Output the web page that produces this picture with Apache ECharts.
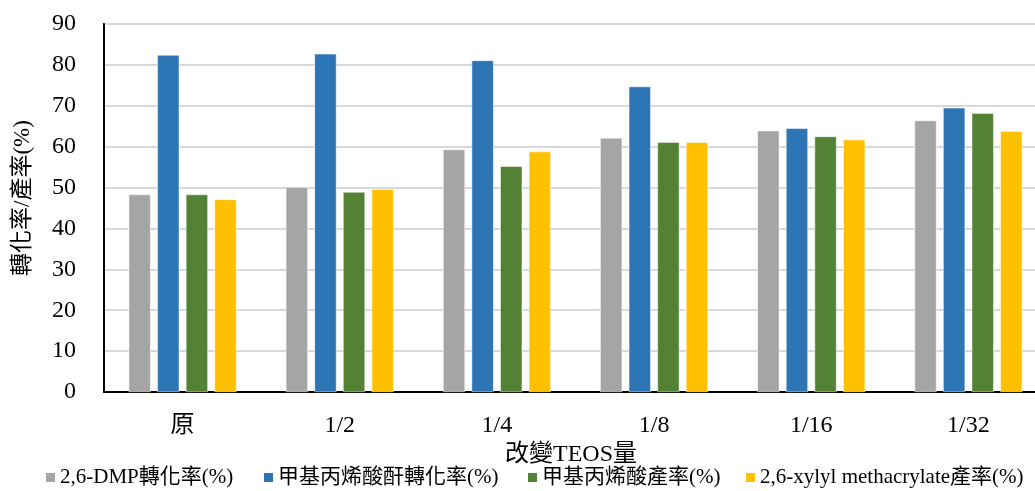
<!DOCTYPE html>
<html>
<head>
<meta charset="utf-8">
<script src="https://cdn.jsdelivr.net/npm/echarts@6/dist/echarts.min.js"></script>
<style>
  html, body { margin: 0; padding: 0; background: #fff; overflow: hidden; }
  #chart { width: 1035px; height: 491px; }
</style>
</head>
<body>
<div id="chart"></div>
<script>
// TEOS amount categories
const categories = ['原', '1/2', '1/4', '1/8', '1/16', '1/32'];

// Series names
const seriesNames = [
  '2,6-DMP轉化率(%)',
  '甲基丙烯酸酐轉化率(%)',
  '甲基丙烯酸產率(%)',
  '2,6-xylyl methacrylate產率(%)'
];

// Values (%)
const dmpConversion   = [48.3, 50.1, 59.3, 62.1, 63.9, 66.4];
const anhydrideConv   = [82.4, 82.7, 81.1, 74.7, 64.5, 69.5];
const acidYield       = [48.3, 48.9, 55.2, 61.1, 62.5, 68.2];
const esterYield      = [47.1, 49.6, 58.8, 61.1, 61.7, 63.8];

// Y axis ticks
const yMin = 0, yMax = 90, yStep = 10;

const colors = ['#A5A5A5', '#2E75B6', '#548235', '#FFC000'];
const fontFamily = "'Liberation Serif', 'Times New Roman', 'Noto Sans CJK TC', serif";

const chart = echarts.init(document.getElementById('chart'));

const seriesData = [dmpConversion, anhydrideConv, acidYield, esterYield];

// one legend block per series so each entry sits at its own x position
const legendLefts = [44, 262, 526, 744];
const legends = seriesNames.map((name, i) => ({
  data: [name],
  left: legendLefts[i],
  top: 467,
  itemWidth: 11,
  itemHeight: 11,
  icon: 'rect',
  padding: 0,
  selectedMode: false,
  textStyle: { fontFamily: fontFamily, fontSize: 21, color: '#000', padding: [0, 0, 0, -1] }
}));

chart.setOption({
  animation: false,
  color: colors,
  textStyle: { fontFamily: fontFamily, color: '#000' },
  title: {
    text: '改變TEOS量',
    left: 566,
    top: 438,
    textAlign: 'center',
    textStyle: { fontFamily: fontFamily, fontSize: 24, fontWeight: 'normal', color: '#000' }
  },
  graphic: [{
    type: 'text',
    x: 23,
    y: 198,
    rotation: Math.PI / 2,
    style: {
      text: '轉化率/產率(%)',
      fontFamily: fontFamily,
      fontSize: 23,
      fill: '#000',
      align: 'center',
      verticalAlign: 'middle'
    }
  }],
  legend: legends,
  // the plot area runs past the right edge of the canvas
  grid: {
    left: 104,
    top: 24,
    height: 368,
    width: 943,
    show: true,
    borderColor: '#000',
    borderWidth: 2,
    containLabel: false,
    outerBoundsMode: 'none'
  },
  xAxis: {
    type: 'category',
    data: categories,
    axisLine: { show: true, lineStyle: { color: '#000', width: 2 } },
    axisTick: { show: false },
    axisLabel: { fontFamily: fontFamily, fontSize: 24, color: '#000', margin: 22 }
  },
  yAxis: {
    type: 'value',
    min: yMin,
    max: yMax,
    interval: yStep,
    axisLine: { show: true, lineStyle: { color: '#000', width: 2 } },
    axisTick: { show: false },
    axisLabel: { fontFamily: fontFamily, fontSize: 24, color: '#000', margin: 28 },
    splitLine: { show: true, lineStyle: { color: '#D9D9D9', width: 2 } }
  },
  series: seriesNames.map((name, i) => ({
    name: name,
    type: 'bar',
    data: seriesData[i],
    barWidth: 22,
    barGap: '30%',
    itemStyle: { color: colors[i], borderColor: '#fff', borderWidth: 0.5 }
  }))
});
</script>
</body>
</html>
